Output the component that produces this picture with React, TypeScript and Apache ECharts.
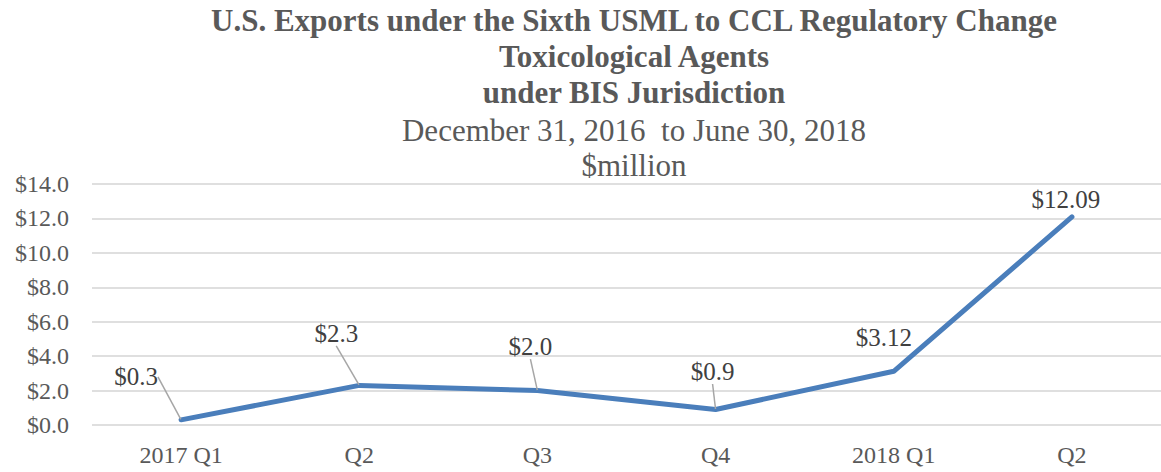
import React, { useEffect, useRef } from "react";
import * as echarts from "echarts";

const CATEGORIES = ["2017 Q1", "Q2", "Q3", "Q4", "2018 Q1", "Q2"];
const EXPORTS = [0.3, 2.3, 2.0, 0.9, 3.12, 12.09];
const VALUE_LABELS = ["$0.3", "$2.3", "$2.0", "$0.9", "$3.12", "$12.09"];
const TITLE_LINES = [
  "U.S. Exports under the Sixth USML to CCL Regulatory Change",
  "Toxicological Agents",
  "under BIS Jurisdiction",
];
const SUBTITLE_LINES = ["December 31, 2016  to June 30, 2018", "$million"];
const Y_MIN = 0;
const Y_MAX = 14;
const Y_STEP = 2;

// label displacement from the default "top" position (styling, not data)
const LABEL_SHIFT: [number, number][] = [
  [-45, -25],
  [-23, -34],
  [-7, -26],
  [-3, -20],
  [-10, -16],
  [-6, 1],
];
const SHOW_GUIDE = [true, true, true, true, false, false];

const FONT = '"Liberation Serif", "Times New Roman", serif';
const TEXT = "#595959";

export default function App() {
  const ref = useRef<HTMLDivElement>(null);
  useEffect(() => {
    if (!ref.current) return;
    const chart = echarts.init(ref.current, null, { renderer: "svg" });
    const titleY = [20, 56, 92];
    const subY = [130, 165];
    const graphic: any[] = [];
    TITLE_LINES.forEach((t, i) =>
      graphic.push({
        type: "text",
        x: 634,
        y: titleY[i],
        style: {
          text: t,
          fill: TEXT,
          font: `bold 31px ${FONT}`,
          align: "center",
          verticalAlign: "middle",
        },
      })
    );
    SUBTITLE_LINES.forEach((t, i) =>
      graphic.push({
        type: "text",
        x: 634,
        y: subY[i],
        style: {
          text: t,
          fill: TEXT,
          font: `31px ${FONT}`,
          align: "center",
          verticalAlign: "middle",
        },
      })
    );
    chart.setOption({
      animation: false,
      backgroundColor: "#ffffff",
      graphic,
      grid: { left: 92, right: -10, top: 184, bottom: 47 },
      xAxis: {
        type: "category",
        data: CATEGORIES,
        boundaryGap: true,
        axisLine: { show: false },
        axisTick: { show: false },
        axisLabel: {
          color: TEXT,
          fontFamily: FONT,
          fontSize: 24,
          margin: 18,
        },
      },
      yAxis: {
        type: "value",
        min: Y_MIN,
        max: Y_MAX,
        interval: Y_STEP,
        axisLine: { show: false },
        axisTick: { show: false },
        splitLine: { lineStyle: { color: "#d4d4d4", width: 1.5 } },
        axisLabel: {
          color: TEXT,
          fontFamily: FONT,
          fontSize: 24,
          margin: 23,
          formatter: (v: number) => "$" + v.toFixed(1),
        },
      },
      series: [
        {
          type: "line",
          data: EXPORTS.map((v, i) => ({
            value: v,
            labelLine: { show: SHOW_GUIDE[i] },
          })),
          symbol: "circle",
          symbolSize: 1,
          lineStyle: { color: "#4a7ebb", width: 5, cap: "round", join: "round" },
          itemStyle: { color: "#4a7ebb" },
          label: {
            show: true,
            position: "top",
            color: "#404040",
            fontFamily: FONT,
            fontSize: 25,
            formatter: (p: any) => VALUE_LABELS[p.dataIndex],
          },
          labelLine: {
            show: true,
            lineStyle: { color: "#a6a6a6", width: 1.5 },
          },
          labelLayout: (p: any) => ({
            dx: LABEL_SHIFT[p.dataIndex][0],
            dy: LABEL_SHIFT[p.dataIndex][1],
          }),
        },
      ],
    });
    return () => chart.dispose();
  }, []);
  return (
    <div
      ref={ref}
      style={{ position: "absolute", left: 0, top: 0, width: 1161, height: 472 }}
    />
  );
}
